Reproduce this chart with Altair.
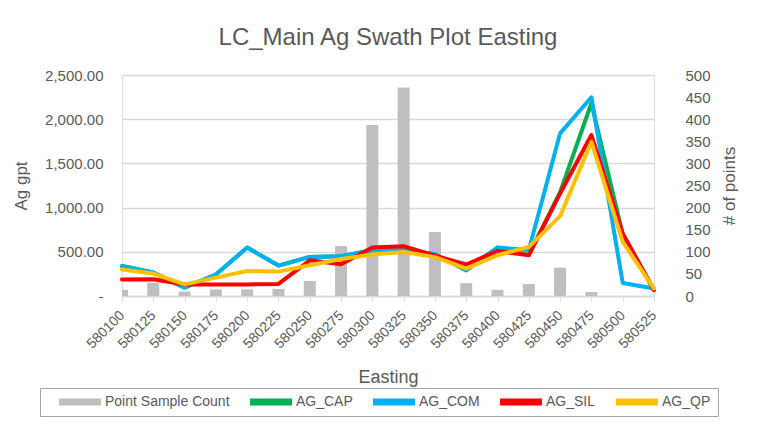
import altair as alt
import pandas as pd

FONT = "Liberation Sans, Arial, sans-serif"
GREY = "#595959"

easting = ["580100", "580125", "580150", "580175", "580200", "580225", "580250",
           "580275", "580300", "580325", "580350", "580375", "580400", "580425",
           "580450", "580475", "580500", "580525"]
point_count = [14, 30, 10, 15, 15, 16, 34, 113, 387, 472, 145, 29, 14, 27, 64, 9, 0, 0]
ag_cap = [340, 265, 95, 242, 548, 344, 442, 450, 518, 526, 472, 290, 548, 465, 1175, 2180, 700, 70]
ag_com = [340, 265, 95, 242, 548, 344, 442, 450, 518, 526, 472, 299, 548, 520, 1840, 2248, 147, 84]
ag_sil = [186, 189, 130, 130, 130, 137, 404, 359, 548, 563, 455, 356, 510, 461, 1160, 1821, 707, 65]
ag_qp = [299, 254, 132, 208, 283, 276, 348, 419, 469, 498, 440, 310, 461, 556, 903, 1745, 612, 84]

series_names = ["Point Sample Count", "AG_CAP", "AG_COM", "AG_SIL", "AG_QP"]
series_colors = ["#bfbfbf", "#00b050", "#00b0f0", "#ff0000", "#ffc000"]
line_series = {"AG_CAP": ag_cap, "AG_COM": ag_com, "AG_SIL": ag_sil, "AG_QP": ag_qp}

bars_df = pd.DataFrame({"Easting": easting, "count": point_count,
                        "series": ["Point Sample Count"] * len(easting)})
rows = []
for name, vals in line_series.items():
    for e, v in zip(easting, vals):
        rows.append({"Easting": e, "value": v, "series": name})
lines_df = pd.DataFrame(rows)

x_enc = alt.X(
    "Easting:O",
    scale=alt.Scale(type="point", domain=easting, padding=0),
    axis=alt.Axis(
        title="Easting", titleFont=FONT, titleFontSize=18, titleFontWeight="normal",
        titleColor=GREY, titlePadding=18,
        labelAngle=315, labelAlign="right", labelBaseline="middle",
        labelFont=FONT, labelFontSize=14, labelColor=GREY, labelPadding=12,
        domainColor="#d9d9d9", domainWidth=1.5, tickColor="#d9d9d9", tickSize=5,
        tickWidth=1, grid=False,
    ),
)

left_axis = alt.Axis(
    orient="left", title="Ag gpt", titleFont=FONT, titleFontSize=17,
    titleFontWeight="normal", titleColor=GREY, titlePadding=14,
    values=[0, 500, 1000, 1500, 2000, 2500],
    labelExpr="datum.value == 0 ? '-   ' : format(datum.value, ',.2f')",
    labelFont=FONT, labelFontSize=15, labelColor=GREY, labelPadding=19,
    ticks=False, domain=False, grid=True, gridColor="#d9d9d9", gridWidth=1.5,
)

right_axis = alt.Axis(
    orient="right", title="# of points", titleFont=FONT, titleFontSize=17,
    titleFontWeight="normal", titleColor=GREY, titlePadding=11, titleAngle=270,
    titleBaseline="top",
    values=[0, 50, 100, 150, 200, 250, 300, 350, 400, 450, 500],
    labelFont=FONT, labelFontSize=15, labelColor=GREY, labelPadding=31,
    ticks=False, domain=False, grid=False,
)

bars = alt.Chart(bars_df).mark_bar(size=12, clip=True).encode(
    x=x_enc,
    y=alt.Y("count:Q", scale=alt.Scale(domain=[0, 500], nice=False), axis=right_axis),
    fill=alt.Fill(
        "series:N",
        scale=alt.Scale(domain=series_names, range=series_colors),
        legend=alt.Legend(
            title=None, orient="none", legendX=-82, legendY=313,
            direction="horizontal", columns=5,
            symbolType="M-3,-0.5L3,-0.5L3,0.5L-3,0.5Z", symbolSize=196,
            symbolStrokeWidth=0, symbolOffset=26, labelOffset=18,
            labelFont=FONT, labelFontSize=14, labelColor=GREY,
            labelExpr="datum.label == 'AG_QP' ? 'AG_QP\u00a0\u00a0\u00a0' : datum.label",
            strokeColor="#a6a6a6", padding=7, columnPadding=8,
        ),
    ),
)

line_layers = []
for name, color in zip(series_names[1:], series_colors[1:]):
    line_layers.append(
        alt.Chart(lines_df).transform_filter(alt.datum.series == name)
        .mark_line(color=color, strokeWidth=4, strokeCap="round", strokeJoin="round")
        .encode(
            x=x_enc,
            y=alt.Y("value:Q", scale=alt.Scale(domain=[0, 2500], nice=False), axis=left_axis),
        )
    )
lines = alt.layer(*line_layers)

chart = alt.layer(bars, lines).resolve_scale(y="independent").properties(
    width=532, height=221,
    autosize=alt.AutoSizeParams(type="none"),
    padding={"left": 114, "top": 67, "right": 110, "bottom": 130},
    title=alt.TitleParams(
        "LC_Main Ag Swath Plot Easting", font=FONT, fontSize=24,
        fontWeight="normal", color=GREY, anchor="middle", offset=18,
    ),
).configure_view(strokeWidth=0).configure(background="white")

chart.save("out.html", embed_options={"renderer": "svg", "actions": False})
